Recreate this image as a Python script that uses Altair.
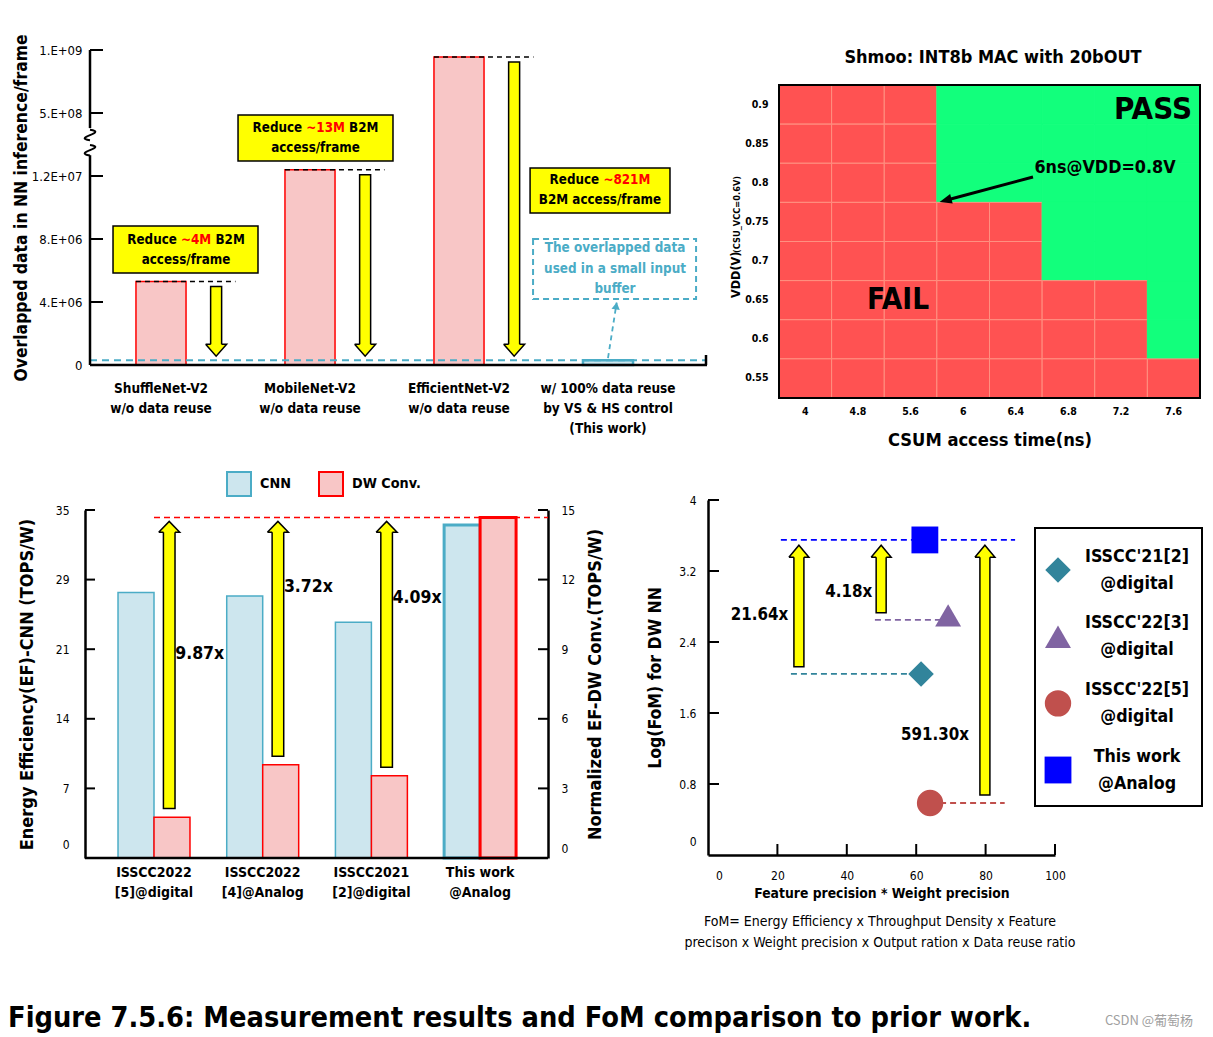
import json
import altair as alt
import pandas as pd

FONT = "DejaVu Sans Condensed, DejaVu Sans, sans-serif"
CJK = "Noto Sans CJK SC, sans-serif"

RED = "#FF0000"
RED_FILL = "#F8C6C6"
CYAN = "#4BACC6"
CYAN_FILL = "#CDE6EE"
YEL = "#FFFF00"
FAIL_C = "#FF5252"
FAIL_GRID = "#FF9080"
PASS_C = "#12FF7C"
D_COLORS = ["#31849B", "#8064A2", "#C0504D", "#0000FF"]
D_SHAPES = ["diamond", "triangle-up", "circle", "square"]

# ------------------------------------------------------------------ data
a_categories = ["ShuffleNet-V2\nw/o data reuse", "MobileNet-V2\nw/o data reuse",
                "EfficientNet-V2\nw/o data reuse",
                "w/ 100% data reuse\nby VS & HS control\n(This work)"]
a_values = [5.3e6, 12.4e6, 9.45e8, 3.0e5]
a_tick_labels = ["0", "4.E+06", "8.E+06", "1.2E+07", "5.E+08", "1.E+09"]
a_reduce_amount = ["~4M", "~13M", "~821M"]

b_times = ["4", "4.8", "5.6", "6", "6.4", "6.8", "7.2", "7.6"]
b_vdd = ["0.9", "0.85", "0.8", "0.75", "0.7", "0.65", "0.6", "0.55"]
b_result = ["FFFPPPPP", "FFFPPPPP", "FFFPPPPP", "FFFFFPPP",
            "FFFFFPPP", "FFFFFFFP", "FFFFFFFP", "FFFFFFFF"]

c_categories = ["ISSCC2022\n[5]@digital", "ISSCC2022\n[4]@Analog",
                "ISSCC2021\n[2]@digital", "This work\n@Analog"]
c_series = ["CNN", "DW Conv."]
c_cnn = [26.7, 26.35, 23.7, 33.5]
c_dw = [1.76, 4.02, 3.54, 14.68]
c_ratios = ["9.87x", "3.72x", "4.09x"]
c_left_labels = ["0", "7", "14", "21", "29", "35"]
c_right_ticks = [0, 3, 6, 9, 12, 15]

d_names = ["ISSCC'21[2]\n@digital", "ISSCC'22[3]\n@digital",
           "ISSCC'22[5]\n@digital", "This work\n@Analog"]
d_x = [61.4, 69.2, 64.0, 62.5]
d_y = [2.04, 2.70, 0.586, 3.55]
d_ratios = ["21.64x", "4.18x", "591.30x"]

one = pd.DataFrame({"k": [0]})

# approximate advance widths (em) of DejaVu Sans Condensed Bold
ADV = {"R": 0.693, "e": 0.610, "d": 0.644, "u": 0.641, "c": 0.533, "~": 0.754,
       "M": 0.896, "B": 0.686}


def text_width(s, size):
    return sum(ADV.get(ch, 0.626) for ch in s) * size


def seg_rows(cx, y, parts, size, ppu):
    sp = 0.313 * size
    widths = [text_width(t, size) for t, _ in parts]
    total = sum(widths) + sp * (len(parts) - 1)
    left = -total / 2
    rows = []
    for (t, col), w in zip(parts, widths):
        rows.append({"x": cx + left / ppu, "y": y, "text": t, "color": col})
        left += w + sp
    return rows


def arrow(df, xs, ys, shape, size, sw=1.5):
    shaft = alt.Chart(df).mark_rect(fill=YEL, stroke="black", strokeWidth=sw).encode(
        x=alt.X("xl:Q", scale=xs, axis=None), x2="xr:Q",
        y=alt.Y("ya:Q", scale=ys, axis=None), y2="yb:Q")
    head = alt.Chart(df).mark_point(shape=shape, size=size, filled=True, fill=YEL,
                                    stroke="black", strokeWidth=sw, opacity=1).encode(
        x=alt.X("xc:Q", scale=xs, axis=None), y=alt.Y("yh:Q", scale=ys, axis=None))
    return [shaft, head]


def T(**kw):
    base = dict(font=FONT, fontWeight="bold", color="black")
    base.update(kw)
    return base


def zero_off(v):
    return {"condition": {"test": "datum.value === 0", "value": v}, "value": 0}


VIEW_H = 358

# ================================================================== panel A
WA, PA = 622, 315
PXA, PYA = 149.0, 63.0
xA = alt.Scale(domain=[-71 / PXA, 546 / PXA], range=[5, WA])
yA = alt.Scale(domain=[0, 5], range=[PA, 0])
POS_EXPR = "datum.value < 1.5e8 ? datum.value / 4e6 : 3 + datum.value / 5e8"


def posA(v):
    return v / 4e6 if v < 1.5e8 else 3 + v / 5e8


dfA = pd.DataFrame({"idx": list(range(4)), "value": a_values, "label": a_categories})
is_this = alt.datum.idx == 3

yaxisA = alt.Axis(values=[0, 1, 2, 3, 4, 5], labelExpr=json.dumps(a_tick_labels) + "[datum.value]",
                  domain=False, ticks=False, tickSize=0, labelPadding=3, labelFontSize=13,
                  labelFont=FONT, labelColor="black", grid=False,
                  title="Overlapped data in NN inference/frame", titleFont=FONT,
                  titleFontSize=17.4, titleFontWeight="bold", titleColor="black", titlePadding=1)

barsA = alt.Chart(dfA).transform_calculate(
    pos=POS_EXPR, xa="datum.idx - 0.168", xb="datum.idx + 0.168", zero="0"
).mark_rect().encode(
    x=alt.X("xa:Q", scale=xA, axis=None), x2="xb:Q",
    y=alt.Y("pos:Q", scale=yA, axis=yaxisA), y2="zero:Q",
    fill=alt.when(is_this).then(alt.value(CYAN_FILL)).otherwise(alt.value(RED_FILL)),
    stroke=alt.when(is_this).then(alt.value(CYAN)).otherwise(alt.value(RED)),
    strokeWidth=alt.when(is_this).then(alt.value(2.5)).otherwise(alt.value(1.5)),
)

topA = pd.DataFrame({"x0": [i - 0.168 for i in range(3)], "x1": [i + 0.5 for i in range(3)],
                     "y": [posA(v) for v in a_values[:3]]})
top_lines = alt.Chart(topA).mark_rule(color="black", strokeDash=[5, 4], strokeWidth=1.5).encode(
    x=alt.X("x0:Q", scale=xA, axis=None), x2="x1:Q", y=alt.Y("y:Q", scale=yA, axis=None))

tipA = posA(a_values[3]) + 0.065
arrA = pd.DataFrame({"xc": [i + 0.37 for i in range(3)]})
arrA["xl"] = arrA["xc"] - 5.5 / PXA
arrA["xr"] = arrA["xc"] + 5.5 / PXA
arrA["ya"] = [posA(v) - 0.08 for v in a_values[:3]]
arrA["yb"] = tipA + 10 / PYA
arrA["yh"] = tipA + 6 / PYA
DOWN_A = "M-1,-0.57L0,0.57L1,-0.57L0.52,-0.57M-0.52,-0.57L-1,-0.57"

boxA = pd.DataFrame({"x0": [-0.322, 0.517, 2.477], "x1": [0.651, 1.557, 3.416],
                     "y0": [1.46, 3.24, 2.413], "y1": [2.206, 3.97, 3.127]})
boxes = alt.Chart(boxA).mark_rect(fill=YEL, stroke="black", strokeWidth=1.5).encode(
    x=alt.X("x0:Q", scale=xA, axis=None), x2="x1:Q", y=alt.Y("y0:Q", scale=yA, axis=None), y2="y1:Q")

BOX_FS = 13.3
box_cx = [0.168, 1.037, 2.946]
box_l1 = [1.984, 3.762, 2.937]
box_l2 = [1.667, 3.444, 2.619]
seg = []
for k in range(3):
    parts = [("Reduce", "black"), (a_reduce_amount[k], RED)]
    if k < 2:
        parts.append(("B2M", "black"))
    seg += seg_rows(box_cx[k], box_l1[k], parts, BOX_FS, PXA)
seg_text = alt.Chart(pd.DataFrame(seg)).mark_text(
    **T(align="left", baseline="middle", fontSize=BOX_FS)).encode(
    x=alt.X("x:Q", scale=xA, axis=None), y=alt.Y("y:Q", scale=yA, axis=None),
    text="text:N", color=alt.Color("color:N", scale=None))
l2 = pd.DataFrame({"x": box_cx, "y": box_l2,
                   "text": ["access/frame", "access/frame", "B2M access/frame"]})
l2_text = alt.Chart(l2).mark_text(**T(baseline="middle", fontSize=BOX_FS)).encode(
    x=alt.X("x:Q", scale=xA, axis=None), y=alt.Y("y:Q", scale=yA, axis=None), text="text:N")

cbox = alt.Chart(pd.DataFrame({"x0": [2.497], "x1": [3.591], "y0": [1.048], "y1": [2.0]})).mark_rect(
    fill="white", fillOpacity=0, stroke=CYAN, strokeDash=[6, 4], strokeWidth=2).encode(
    x=alt.X("x0:Q", scale=xA, axis=None), x2="x1:Q", y=alt.Y("y0:Q", scale=yA, axis=None), y2="y1:Q")
ctext = alt.Chart(pd.DataFrame({"x": [3.047], "y": [1.857],
                                "t": ["The overlapped data\nused in a small input\nbuffer"]})).mark_text(
    **T(baseline="middle", lineBreak="\n", lineHeight=20.5, fontSize=13.4, color=CYAN)).encode(
    x=alt.X("x:Q", scale=xA, axis=None), y=alt.Y("y:Q", scale=yA, axis=None), text="t:N")
carrow = alt.Chart(pd.DataFrame({"x0": [3.0], "y0": [0.11], "x1": [3.058], "y1": [0.99]})).mark_rule(
    color=CYAN, strokeDash=[5, 4], strokeWidth=1.8).encode(
    x=alt.X("x0:Q", scale=xA, axis=None), y=alt.Y("y0:Q", scale=yA, axis=None), x2="x1:Q", y2="y1:Q")
chead = alt.Chart(pd.DataFrame({"x": [3.055], "y": [0.94]})).mark_point(
    shape="triangle-up", size=70, filled=True, color=CYAN, opacity=1, angle=9).encode(
    x=alt.X("x:Q", scale=xA, axis=None), y=alt.Y("y:Q", scale=yA, axis=None))

cyan_line = alt.Chart(pd.DataFrame({"y": [posA(a_values[3])]})).mark_rule(
    color=CYAN, strokeDash=[7, 5], strokeWidth=1.8).encode(
    x=alt.value(5), x2=alt.value(WA), y=alt.Y("y:Q", scale=yA, axis=None))

yaxis_line = alt.Chart(pd.DataFrame({"y0": [0, 3.76], "y1": [3.33, 5]})).mark_rule(
    color="black", strokeWidth=2.5).encode(
    x=alt.value(5), y=alt.Y("y0:Q", scale=yA, axis=None), y2="y1:Q")
SQUIGGLE = "M0,-1C3.5,-0.5,-3.5,0.5,0,1"
squig = alt.Chart(pd.DataFrame({"y": [3.65, 3.41]})).mark_point(
    shape=SQUIGGLE, size=110, filled=False, stroke="black", strokeWidth=2, opacity=1).encode(
    x=alt.value(5), y=alt.Y("y:Q", scale=yA, axis=None))
yticks_A = alt.Chart(pd.DataFrame({"y": [1, 2, 3, 4, 5]})).mark_rule(color="black", strokeWidth=2).encode(
    x=alt.value(5), x2=alt.value(18), y=alt.Y("y:Q", scale=yA, axis=None))
xaxis_A = alt.Chart(one).mark_rule(color="black", strokeWidth=2.5).encode(
    x=alt.value(5), x2=alt.value(WA), y=alt.value(PA))
xend_A = alt.Chart(one).mark_rule(color="black", strokeWidth=2.5).encode(
    x=alt.value(WA - 1), y=alt.value(PA - 10), y2=alt.value(PA))
catA = alt.Chart(dfA).mark_text(**T(baseline="top", lineBreak="\n", lineHeight=20, fontSize=13.5)).encode(
    x=alt.X("idx:Q", scale=xA, axis=None), y=alt.value(PA + 17), text="label:N")
anchor = alt.Chart(one).mark_rule(color="white", strokeWidth=1).encode(
    x=alt.value(0), y=alt.value(-41.5), y2=alt.value(-40.5))

panelA = alt.layer(
    anchor, barsA, top_lines, *arrow(arrA, xA, yA, DOWN_A, 441), boxes, seg_text, l2_text,
    cbox, ctext, carrow, chead, cyan_line, yaxis_line, squig, yticks_A, xaxis_A, xend_A, catA
).resolve_scale(x="independent", y="independent").properties(width=WA, height=VIEW_H)

# ================================================================== panel B
XB, WBP, TB, BB = 71, 421, 35, 348
dfB = pd.DataFrame([{"t": t, "v": v, "r": ("PASS" if b_result[i][j] == "P" else "FAIL")}
                    for i, v in enumerate(b_vdd) for j, t in enumerate(b_times)])
heat = alt.Chart(dfB).mark_rect(strokeWidth=1).encode(
    x=alt.X("t:O", sort=b_times,
            scale=alt.Scale(domain=b_times, range=[XB, XB + WBP], paddingInner=0, paddingOuter=0),
            axis=alt.Axis(title="CSUM access time(ns)", labelAngle=0, ticks=False, tickSize=0,
                          domain=False, offset=BB - VIEW_H, labelPadding=8, labelFontSize=10.5,
                          labelFont=FONT, labelFontWeight="bold", labelColor="black", titleFont=FONT,
                          titleFontSize=18.2, titleFontWeight="bold", titleColor="black",
                          titlePadding=15)),
    y=alt.Y("v:O", sort=b_vdd, scale=alt.Scale(domain=b_vdd, range=[TB, BB], paddingInner=0,
                                               paddingOuter=0),
            axis=alt.Axis(title=None, ticks=False, tickSize=0, domain=False, offset=-XB,
                          labelPadding=11, labelFontSize=10.5, labelFont=FONT, labelFontWeight="bold",
                          labelColor="black")),
    fill=alt.Fill("r:N", scale=alt.Scale(domain=["FAIL", "PASS"], range=[FAIL_C, PASS_C]), legend=None),
    stroke=alt.Stroke("r:N", scale=alt.Scale(domain=["FAIL", "PASS"], range=[FAIL_GRID, PASS_C]),
                      legend=None),
)
frameB = alt.Chart(one).mark_rect(fill="white", fillOpacity=0, stroke="black", strokeWidth=2).encode(
    x=alt.value(XB), x2=alt.value(XB + WBP), y=alt.value(TB), y2=alt.value(BB))
titleB = alt.Chart(one).mark_text(**T(text="Shmoo: INT8b MAC with 20bOUT", fontSize=18)).encode(
    x=alt.value(XB + 214), y=alt.value(8))
passB = alt.Chart(one).mark_text(**T(text="PASS", fontSize=31)).encode(
    x=alt.value(XB + 374), y=alt.value(60))
failB = alt.Chart(one).mark_text(**T(text="FAIL", fontSize=29.5)).encode(
    x=alt.value(XB + 119), y=alt.value(250))
noteB = alt.Chart(one).mark_text(**T(text="6ns@VDD=0.8V", fontSize=17.8)).encode(
    x=alt.value(XB + 326), y=alt.value(118))
arrB = alt.Chart(one).mark_rule(color="black", strokeWidth=3).encode(
    x=alt.value(XB + 254), y=alt.value(127), x2=alt.value(XB + 168), y2=alt.value(150))
arrBh = alt.Chart(one).mark_point(shape="M1,0L-1,-0.8L-1,0.8Z", size=150, angle=165, filled=True,
                                  color="black", opacity=1).encode(x=alt.value(XB + 166.5),
                                                                   y=alt.value(150.4))
vddB = alt.Chart(one).mark_text(**T(text="VDD(V)", angle=270, align="left", baseline="alphabetic",
                                    fontSize=12.5)).encode(x=alt.value(XB - 39), y=alt.value(248))
csuB = alt.Chart(one).mark_text(**T(text="(CSU_VCC=0.6V)", angle=270, align="left",
                                    baseline="alphabetic", fontSize=9.2)).encode(
    x=alt.value(XB - 39), y=alt.value(203))
panelB = alt.layer(heat, frameB, titleB, passB, failB, noteB, arrB, arrBh, vddB, csuB).properties(
    width=XB + WBP, height=VIEW_H)

# ================================================================== panel C
WC, HC, PCW = 622, VIEW_H, 463
PXC, PYC = 108.7, 23.2
xC = alt.Scale(domain=[-69 / PXC, 394 / PXC], range=[0, PCW])
yL = alt.Scale(domain=[0, 35], range=[HC, 10])
yR = alt.Scale(domain=[0, 15], range=[HC, 10])
dfC = pd.DataFrame({"idx": list(range(4)), "cat": c_categories, "cnn": c_cnn, "dw": c_dw})

legC = alt.Legend(orient="none", legendX=141, legendY=-29, direction="horizontal", title=None,
                  symbolType="square", symbolSize=576, symbolStrokeWidth=2, symbolOpacity=1,
                  labelFontSize=14.3, labelFont=FONT, labelFontWeight="bold", labelColor="black",
                  labelOffset=8, columnPadding=24)
fillC = alt.Scale(domain=c_series, range=[CYAN_FILL, RED_FILL])
strokeC = alt.Scale(domain=c_series, range=[CYAN, RED])

axisL = alt.Axis(orient="left", values=[0, 7, 14, 21, 28, 35],
                 labelExpr=json.dumps(c_left_labels) + "[round(datum.value / 7)]",
                 domain=True, domainColor="black", domainWidth=2.5, ticks=False, tickSize=0,
                 labelPadding=16, labelFontSize=12, labelFont=FONT, labelColor="black",
                 labelOffset=zero_off(-14), grid=False,
                 title="Energy Efficiency(EF)-CNN (TOPS/W)", titleFont=FONT, titleFontSize=18,
                 titleFontWeight="bold", titleColor="black", titlePadding=19)
axisR = alt.Axis(orient="right", values=c_right_ticks, offset=-(WC - PCW),
                 domain=True, domainColor="black", domainWidth=2.5, ticks=False, tickSize=0,
                 labelPadding=13, labelFontSize=12, labelFont=FONT, labelColor="black",
                 labelOffset=zero_off(-10), grid=False,
                 title="Normalized EF-DW Conv.(TOPS/W)", titleAngle=270, titleBaseline="top",
                 titleFont=FONT, titleFontSize=18, titleFontWeight="bold", titleColor="black",
                 titlePadding=12)

cnn_bars = alt.Chart(dfC).transform_calculate(
    series="'CNN'", xa="datum.idx - 0.331", xb="datum.idx", zero="0"
).mark_rect().encode(
    x=alt.X("xa:Q", scale=xC, axis=None), x2="xb:Q",
    y=alt.Y("cnn:Q", scale=yL, axis=axisL), y2="zero:Q",
    fill=alt.Fill("series:N", scale=fillC, legend=legC),
    stroke=alt.Stroke("series:N", scale=strokeC, legend=legC),
    strokeWidth=alt.when(is_this).then(alt.value(3)).otherwise(alt.value(1.5)),
)
dw_bars = alt.Chart(dfC).transform_calculate(
    series="'DW Conv.'", xa="datum.idx", xb="datum.idx + 0.331", zero="0"
).mark_rect().encode(
    x=alt.X("xa:Q", scale=xC, axis=None), x2="xb:Q",
    y=alt.Y("dw:Q", scale=yR, axis=axisR), y2="zero:Q",
    fill=alt.Fill("series:N", scale=fillC, legend=legC),
    stroke=alt.Stroke("series:N", scale=strokeC, legend=legC),
    strokeWidth=alt.when(is_this).then(alt.value(3)).otherwise(alt.value(1.5)),
)
tickC = pd.DataFrame({"y": c_right_ticks[1:]})
ticksL = alt.Chart(tickC).mark_rule(color="black", strokeWidth=2).encode(
    x=alt.value(0), x2=alt.value(10), y=alt.Y("y:Q", scale=yR, axis=None))
ticksR = alt.Chart(tickC).mark_rule(color="black", strokeWidth=2).encode(
    x=alt.value(PCW - 10), x2=alt.value(PCW), y=alt.Y("y:Q", scale=yR, axis=None))
xaxis_C = alt.Chart(one).mark_rule(color="black", strokeWidth=2.5).encode(
    x=alt.value(0), x2=alt.value(PCW), y=alt.value(HC))
redline = alt.Chart(pd.DataFrame({"x0": [0.0], "x1": [394 / PXC], "y": [c_dw[3]]})).mark_rule(
    color=RED, strokeDash=[6, 4], strokeWidth=1.5).encode(
    x=alt.X("x0:Q", scale=xC, axis=None), x2="x1:Q", y=alt.Y("y:Q", scale=yR, axis=None))

tipC = c_dw[3] - 0.17
arrC = pd.DataFrame({"xc": [i + 0.14 for i in range(3)]})
arrC["xl"] = arrC["xc"] - 5.8 / PXC
arrC["xr"] = arrC["xc"] + 5.8 / PXC
arrC["ya"] = [v + 0.37 for v in c_dw[:3]]
arrC["yb"] = tipC - 9 / PYC
arrC["yh"] = tipC - 5.5 / PYC
UP_C = "M-1,0.52L0,-0.52L1,0.52L0.55,0.52M-0.55,0.52L-1,0.52"

ratC = pd.DataFrame({"x": [i + 0.14 + 0.055 for i in range(3)], "y": [8.79, 11.68, 11.2], "t": c_ratios})
ratC_text = alt.Chart(ratC).mark_text(**T(align="left", baseline="middle", fontSize=17.5)).encode(
    x=alt.X("x:Q", scale=xC, axis=None), y=alt.Y("y:Q", scale=yR, axis=None), text="t:N")
catC = alt.Chart(dfC).mark_text(**T(baseline="top", lineBreak="\n", lineHeight=20, fontSize=14)).encode(
    x=alt.X("idx:Q", scale=xC, axis=None), y=alt.value(HC + 8), text="cat:N")
caption = alt.Chart(one).mark_text(
    **T(text="Figure 7.5.6: Measurement results and FoM comparison to prior work.",
        align="left", baseline="middle", fontSize=28.7)).encode(x=alt.value(-77), y=alt.value(518))

panelC = alt.layer(
    cnn_bars, dw_bars, ticksL, ticksR, xaxis_C, redline, *arrow(arrC, xC, yR, UP_C, 441),
    ratC_text, catC, caption
).resolve_scale(y="independent").properties(width=WC, height=HC)

# ================================================================== panel D
WD, PD = 347, 355
PXD, PYD = 3.47, 88.75
xD = alt.Scale(domain=[0, 100], range=[0, WD])
yD = alt.Scale(domain=[0, 4], range=[PD, 0])
colorD = alt.Scale(domain=d_names, range=D_COLORS)
shapeD = alt.Scale(domain=d_names, range=D_SHAPES)
sizeD = alt.Scale(domain=d_names, range=[650, 720, 650, 576])
dfD = pd.DataFrame({"name": d_names, "x": d_x, "y": d_y, "idx": list(range(4))})

axisDx = alt.Axis(values=[0, 20, 40, 60, 80, 100], domain=True, domainColor="black", domainWidth=2.5,
                  offset=PD - VIEW_H, ticks=False, tickSize=0, labelPadding=15, labelFontSize=12,
                  labelFont=FONT, labelColor="black", labelFlush=False, labelOffset=zero_off(11),
                  grid=False, title="Feature precision * Weight precision", titleFont=FONT,
                  titleFontSize=13.8, titleFontWeight="bold", titleColor="black", titlePadding=5)
axisDy = alt.Axis(values=[0, 0.8, 1.6, 2.4, 3.2, 4], format="~g", domain=True, domainColor="black",
                  domainWidth=2.5, ticks=False, tickSize=0, labelPadding=12, labelFontSize=12,
                  labelFont=FONT, labelColor="black", labelFlush=False, labelOffset=zero_off(-14),
                  grid=False, title="Log(FoM) for DW NN", titleFont=FONT, titleFontSize=17.5,
                  titleFontWeight="bold", titleColor="black", titlePadding=14)

linesD = pd.DataFrame({"name": d_names, "x0": [23.9, 48.1, 64.0, 21.0], "x1": [61.4, 68.3, 85.5, 88.5],
                       "y": [2.04, 2.65, 0.586, 3.55]})
dashD = alt.Chart(linesD).mark_rule(strokeDash=[6, 4], strokeWidth=1.8).encode(
    x=alt.X("x0:Q", scale=xD, axis=None), x2="x1:Q", y=alt.Y("y:Q", scale=yD, axis=None),
    color=alt.Color("name:N", scale=colorD, legend=None))
ptsD = alt.Chart(dfD).mark_point(filled=True, opacity=1).encode(
    x=alt.X("x:Q", scale=xD, axis=axisDx), y=alt.Y("y:Q", scale=yD, axis=axisDy),
    shape=alt.Shape("name:N", scale=shapeD, legend=None),
    color=alt.Color("name:N", scale=colorD, legend=None),
    size=alt.Size("name:N", scale=sizeD, legend=None))

tipD = d_y[3] - 0.06
arrD = pd.DataFrame({"xc": [26.2, 49.9, 79.8]})
arrD["xl"] = arrD["xc"] - 5 / PXD
arrD["xr"] = arrD["xc"] + 5 / PXD
arrD["ya"] = [d_y[0] + 0.08, 2.65 + 0.08, d_y[2] + 0.09]
arrD["yb"] = tipD - 10 / PYD
arrD["yh"] = tipD - 6 / PYD
UP_D = "M-1,0.6L0,-0.6L1,0.6L0.5,0.6M-0.5,0.6L-1,0.6"

ratD = pd.DataFrame({"x": [23.1, 47.3, 75.2], "y": [2.70, 2.96, 1.35], "t": d_ratios})
ratD_text = alt.Chart(ratD).mark_text(**T(align="right", baseline="middle", fontSize=16.8)).encode(
    x=alt.X("x:Q", scale=xD, axis=None), y=alt.Y("y:Q", scale=yD, axis=None), text="t:N")
ytD = alt.Chart(pd.DataFrame({"y": [0.8, 1.6, 2.4, 3.2, 4.0]})).mark_rule(color="black", strokeWidth=2).encode(
    x=alt.value(0), x2=alt.value(11), y=alt.Y("y:Q", scale=yD, axis=None))
xtD = alt.Chart(pd.DataFrame({"x": [20, 40, 60, 80, 100]})).mark_rule(color="black", strokeWidth=2).encode(
    x=alt.X("x:Q", scale=xD, axis=None), y=alt.value(PD - 11), y2=alt.value(PD))

legY = alt.Scale(domain=[0, 3], range=[70, 270])
legbox = alt.Chart(one).mark_rect(fill="white", stroke="black", strokeWidth=2).encode(
    x=alt.value(327), x2=alt.value(494), y=alt.value(28), y2=alt.value(306))
legsym = alt.Chart(dfD).mark_point(filled=True, opacity=1).encode(
    x=alt.value(350), y=alt.Y("idx:Q", scale=legY, axis=None),
    shape=alt.Shape("name:N", scale=shapeD, legend=None),
    color=alt.Color("name:N", scale=colorD, legend=None),
    size=alt.Size("name:N", scale=sizeD, legend=None))
legtxt = alt.Chart(dfD).mark_text(**T(baseline="middle", lineBreak="\n", lineHeight=27,
                                      fontSize=17.7, dy=-13.5)).encode(
    x=alt.value(429), y=alt.Y("idx:Q", scale=legY, axis=None), text="name:N")
fom = alt.Chart(one).mark_text(
    text="FoM= Energy Efficiency x Throughput Density x Feature\nprecison x Weight precision x Output ration x Data reuse ratio",
    lineBreak="\n", lineHeight=21, baseline="middle", font=FONT, fontSize=14,
    color="black").encode(x=alt.value(172), y=alt.value(422))
wmark = alt.Chart(one).mark_text(text="CSDN @葡萄杨", font=CJK, fontSize=13, color="#A0A0A0").encode(
    x=alt.value(441), y=alt.value(521))

panelD = alt.layer(
    dashD, ptsD, *arrow(arrD, xD, yD, UP_D, 400), ratD_text, ytD, xtD, legbox, legsym, legtxt, fom, wmark
).resolve_scale(x="independent", y="independent").properties(width=WD, height=VIEW_H)

# ================================================================== assemble
chart = alt.concat(
    panelA, panelB, panelC, panelD, columns=2, spacing={"row": 92, "column": 1},
    bounds="flush", align="all"
).resolve_scale(
    fill="independent", stroke="independent", color="independent", shape="independent",
    size="independent"
).properties(padding=0, background="white").configure_view(strokeWidth=0, stroke="transparent")

chart.save("out.html", embed_options={"renderer": "svg", "actions": False})
